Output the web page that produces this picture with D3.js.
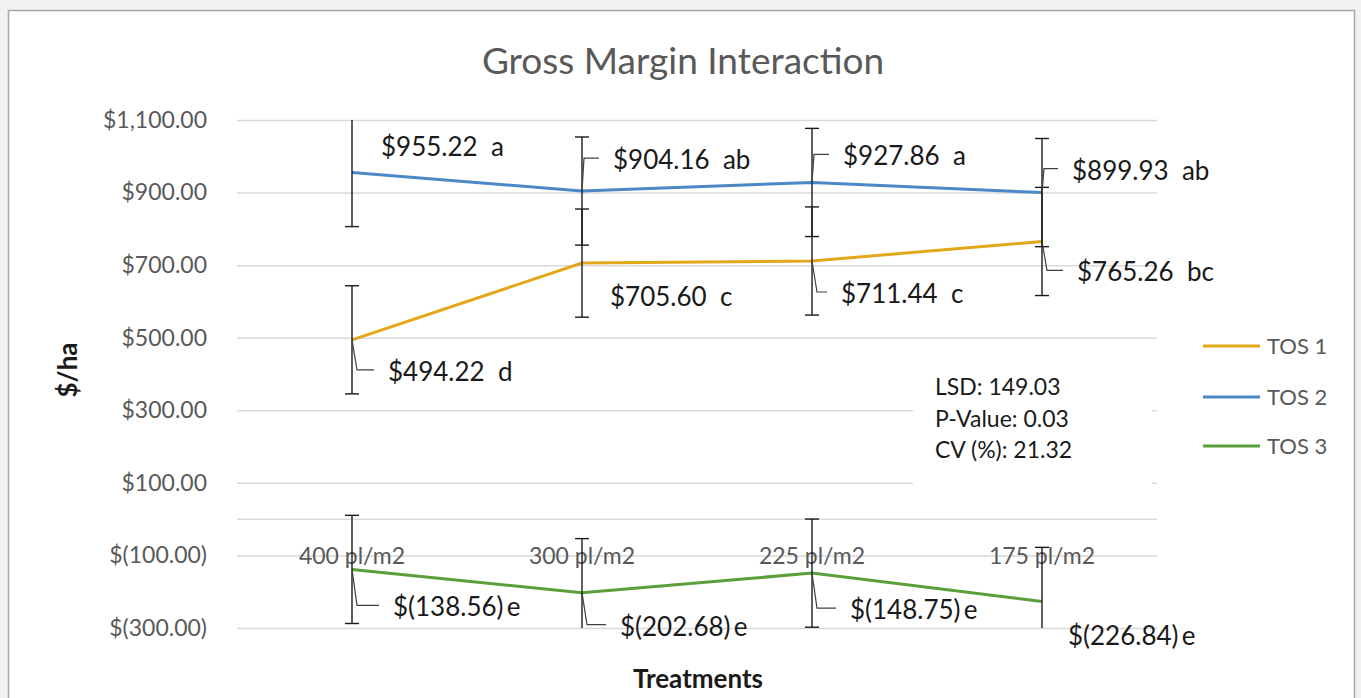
<!DOCTYPE html>
<html>
<head>
<meta charset="utf-8">
<script src="https://cdn.jsdelivr.net/npm/d3@7"></script>
<style>
  body { margin: 0; background: #f2f2f2; }
  svg { display: block; font-family: Lato, "Liberation Sans", sans-serif; }
</style>
</head>
<body>
<div id="chart"></div>
<script>
// categories and series
const treatments = ["400 pl/m2", "300 pl/m2", "225 pl/m2", "175 pl/m2"];
const seriesNames = ["TOS 1", "TOS 2", "TOS 3"];
const tos1 = [494.22, 705.60, 711.44, 765.26];
const tos2 = [955.22, 904.16, 927.86, 899.93];
const tos3 = [-138.56, -202.68, -148.75, -226.84];
const letters1 = ["d", "c", "c", "bc"];
const letters2 = ["a", "ab", "a", "ab"];
const letters3 = ["e", "e", "e", "e"];
const lsd = 149.03;
const yTicks = [-300, -100, 100, 300, 500, 700, 900, 1100];
const statsLines = ["LSD: 149.03", "P-Value: 0.03", "CV (%): 21.32"];

const colors = ["#e3a71a", "#4a88c8", "#5b9f3a"];

// label placement (dx, dy from the point, and whether a leader line is drawn)
const labelPos = [
  [[36, 32, true], [28, 34, false], [29, 33, true], [35, 31, true]],
  [[29, -26, false], [31, -31, true], [31, -26, true], [30, -22, true]],
  [[41, 38, true], [38, 34, true], [38, 37, true], [26, 35, false]]
];

const W = 1361, H = 698;
const plotL = 237, plotR = 1157, plotT = 120, plotB = 628;

const svg = d3.select("#chart").append("svg")
  .attr("width", W).attr("height", H);

// chart box
svg.append("rect")
  .attr("x", 8.5).attr("y", 10.5).attr("width", 1346).attr("height", 700)
  .attr("fill", "white").attr("stroke", "#a6a6a6").attr("stroke-width", 1.5);

let x = d3.scalePoint().domain(treatments).range([plotL, plotR]).padding(0.5);
let y = d3.scaleLinear().domain([-300, 1100]).range([plotB, plotT]);

let money = d3.format(",.2f");
let fmtTick = v => v < 0 ? "$(" + money(-v) + ")" : "$" + money(v);

// gridlines + y labels
let yAxis = svg.append("g")
  .attr("transform", `translate(${plotL},0)`)
  .call(d3.axisLeft(y).tickValues(yTicks).tickSize(-(plotR - plotL)).tickPadding(30).tickFormat(fmtTick))
  .attr("font-family", null);
yAxis.select(".domain").remove();
yAxis.selectAll("line").attr("stroke", "#d9d9d9").attr("stroke-width", 1.5);
yAxis.selectAll("text").attr("fill", "#595959").style("font-size", "23px");

// zero line (category axis)
svg.append("line")
  .attr("x1", plotL).attr("x2", plotR).attr("y1", y(0)).attr("y2", y(0))
  .attr("stroke", "#d9d9d9").attr("stroke-width", 1.5);

// category labels
svg.append("g").selectAll("text")
  .data(treatments).enter().append("text")
  .attr("x", d => x(d)).attr("y", y(0) + 45)
  .attr("text-anchor", "middle")
  .attr("fill", "#595959").style("font-size", "23px")
  .text(d => d);

// stats text box
svg.append("rect")
  .attr("x", 913).attr("y", 365).attr("width", 239).attr("height", 125)
  .attr("fill", "white");
svg.append("g").selectAll("text")
  .data(statsLines).enter().append("text")
  .attr("x", 935).attr("y", (d, i) => 395 + i * 31.5)
  .attr("fill", "#1a1a1a").style("font-size", "23px")
  .text(d => d);

// clip to plot area
svg.append("clipPath").attr("id", "plotclip")
  .append("rect").attr("x", plotL - 20).attr("y", plotT).attr("width", plotR - plotL + 40).attr("height", plotB - plotT);

let series = [
  { name: seriesNames[0], values: tos1, letters: letters1 },
  { name: seriesNames[1], values: tos2, letters: letters2 },
  { name: seriesNames[2], values: tos3, letters: letters3 }
];

let line = d3.line()
  .x((d, i) => x(treatments[i]))
  .y(d => y(d));

let plot = svg.append("g").attr("clip-path", "url(#plotclip)");

series.forEach((s, si) => {
  plot.append("path")
    .datum(s.values)
    .attr("d", line)
    .attr("fill", "none")
    .attr("stroke", colors[si])
    .attr("stroke-width", 3);
});

// error bars
series.forEach(s => {
  let g = plot.append("g").attr("stroke", "#1a1a1a").attr("stroke-width", 1.4);
  s.values.forEach((v, i) => {
    let cx = x(treatments[i]);
    let hi = v + lsd, lo = v - lsd;
    g.append("line").attr("x1", cx).attr("x2", cx).attr("y1", y(hi)).attr("y2", y(lo));
    [hi, lo].forEach(e => {
      if (e <= 1100 && e >= -300) {
        g.append("line").attr("x1", cx - 7).attr("x2", cx + 7).attr("y1", y(e)).attr("y2", y(e));
      }
    });
  });
});

// data labels with leader lines
let fmtLabel = (v, l) => v < 0 ? "$(" + money(-v) + ")\u2009" + l : "$" + money(v) + "  " + l;
series.forEach((s, si) => {
  s.values.forEach((v, i) => {
    let cx = x(treatments[i]), cy = y(v);
    let p = labelPos[si][i];
    let tx = cx + p[0], ty = cy + p[1];
    if (p[2]) {
      let lx = cx + (p[1] > 0 ? 5 : 2);
      svg.append("path")
        .attr("d", `M${cx},${cy}L${lx},${ty - 2}L${tx - 14},${ty - 2}`)
        .attr("fill", "none").attr("stroke", "#404040").attr("stroke-width", 1.2);
    }
    svg.append("text")
      .attr("x", tx).attr("y", ty + 9)
      .attr("fill", "#1a1a1a").style("font-size", "26px")
      .style("white-space", "pre")
      .text(fmtLabel(v, s.letters[i]));
  });
});

// legend
let legend = svg.append("g").selectAll("g")
  .data(seriesNames).enter().append("g")
  .attr("transform", (d, i) => `translate(1203,${[346, 397, 446][i]})`);
legend.append("line").attr("x1", 0).attr("x2", 57)
  .attr("stroke", (d, i) => colors[i]).attr("stroke-width", 3);
legend.append("text").attr("x", 64).attr("y", 8)
  .attr("fill", "#595959").style("font-size", "22px").text(d => d);

// titles
svg.append("text")
  .attr("x", 683).attr("y", 74).attr("text-anchor", "middle")
  .attr("fill", "#595959").style("font-size", "37px")
  .text("Gross Margin Interaction");

svg.append("text")
  .attr("x", 698).attr("y", 688).attr("text-anchor", "middle")
  .attr("fill", "#1a1a1a").style("font-size", "26px").style("font-weight", "bold")
  .text("Treatments");

svg.append("text")
  .attr("transform", "translate(77,370) rotate(-90)")
  .attr("text-anchor", "middle")
  .attr("fill", "#1a1a1a").style("font-size", "26px").style("font-weight", "bold")
  .text("$/ha");
</script>
</body>
</html>
